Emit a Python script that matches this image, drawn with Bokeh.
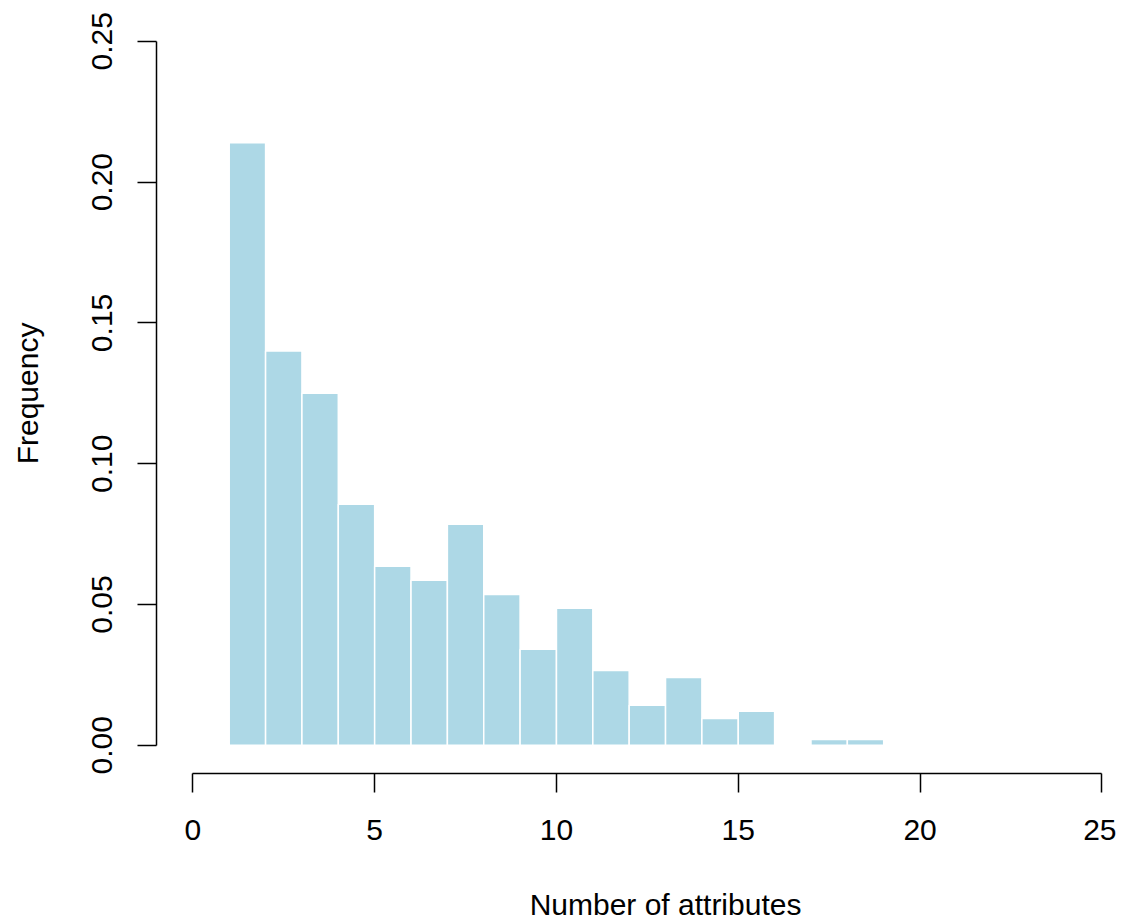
import math
from bokeh.plotting import figure
from bokeh.models import Range1d, FixedTicker, ColumnDataSource, LinearAxis
from bokeh.embed import file_html
from bokeh.resources import INLINE

# ---- data ----
bin_left = [1, 2, 3, 4, 5, 6, 7, 8, 9, 10, 11, 12, 13, 14, 15, 16, 17, 18]
bin_right = [2, 3, 4, 5, 6, 7, 8, 9, 10, 11, 12, 13, 14, 15, 16, 17, 18, 19]
frequency = [0.214, 0.140, 0.125, 0.0856, 0.0636, 0.0586, 0.0785, 0.0536, 0.0341,
             0.0487, 0.0266, 0.0142, 0.0241, 0.0095, 0.0121, 0.0, 0.0021, 0.0021]
x_ticks = [0, 5, 10, 15, 20, 25]
y_ticks = [0.00, 0.05, 0.10, 0.15, 0.20, 0.25]
y_tick_labels = {0.0: "0.00", 0.05: "0.05", 0.1: "0.10", 0.15: "0.15", 0.2: "0.20", 0.25: "0.25"}
x_title = "Number of attributes"
x_title_center = 13.0   # the reference centres the x title over x = 13
y_title = "Frequency"

FONT = "Liberation Sans"

# ---- geometry ----
px_x = 909 / 25.0      # pixels per x unit
px_y = 704 / 0.25      # pixels per y unit
left_b = 156
top_b = 13
frame_w = 960
frame_h = 760
total_h = 922
x0 = -1.0
y0 = -0.01

p = figure(
    width=left_b + frame_w, height=total_h,
    frame_width=frame_w, frame_height=frame_h,
    x_range=Range1d(x0, x0 + frame_w / px_x),
    y_range=Range1d(y0, y0 + frame_h / px_y),
    output_backend="svg", toolbar_location=None,
    min_border_left=left_b, min_border_right=0, min_border_top=top_b,
    min_border_bottom=total_h - top_b - frame_h,
)
p.outline_line_color = None
p.grid.visible = False
p.background_fill_color = "white"
p.border_fill_color = "white"

src = ColumnDataSource(dict(left=bin_left, right=bin_right, top=frequency,
                            bottom=[0] * len(frequency)))
p.quad(left="left", right="right", top="top", bottom="bottom", source=src,
       fill_color="#ADD8E6", line_color="white", line_width=1.5)

for ax in (p.xaxis[0], p.yaxis[0]):
    ax.axis_line_color = "black"
    ax.axis_line_width = 1.5
    ax.major_tick_line_color = "black"
    ax.major_tick_line_width = 1.5
    ax.major_tick_out = 19
    ax.major_tick_in = 0
    ax.minor_tick_line_color = None
    ax.major_label_text_font = FONT
    ax.major_label_text_font_size = "30px"
    ax.major_label_text_color = "black"

p.xaxis[0].ticker = FixedTicker(ticks=x_ticks)
p.xaxis[0].bounds = (0, 25)
p.xaxis[0].major_label_standoff = 27

p.yaxis[0].ticker = FixedTicker(ticks=y_ticks)
p.yaxis[0].bounds = (0, 0.25)
p.yaxis[0].major_label_overrides = y_tick_labels
p.yaxis[0].major_label_orientation = "vertical"
p.yaxis[0].major_label_standoff = 25
p.yaxis[0].axis_label = y_title
p.yaxis[0].axis_label_text_font = FONT
p.yaxis[0].axis_label_text_font_size = "30px"
p.yaxis[0].axis_label_text_font_style = "normal"
p.yaxis[0].axis_label_text_color = "black"
p.yaxis[0].axis_label_standoff = 46

# second, line-less axis below whose single label is the x title, placed at x = 13
title_axis = LinearAxis(ticker=FixedTicker(ticks=[x_title_center]),
                        major_label_overrides={x_title_center: x_title},
                        axis_line_color=None, major_tick_line_color=None,
                        major_tick_out=0, major_tick_in=0,
                        minor_tick_line_color=None,
                        major_label_text_font=FONT, major_label_text_font_size="30px",
                        major_label_text_color="black", major_label_standoff=45)
p.add_layout(title_axis, "below")

open("out.html", "w").write(file_html(p, INLINE))
